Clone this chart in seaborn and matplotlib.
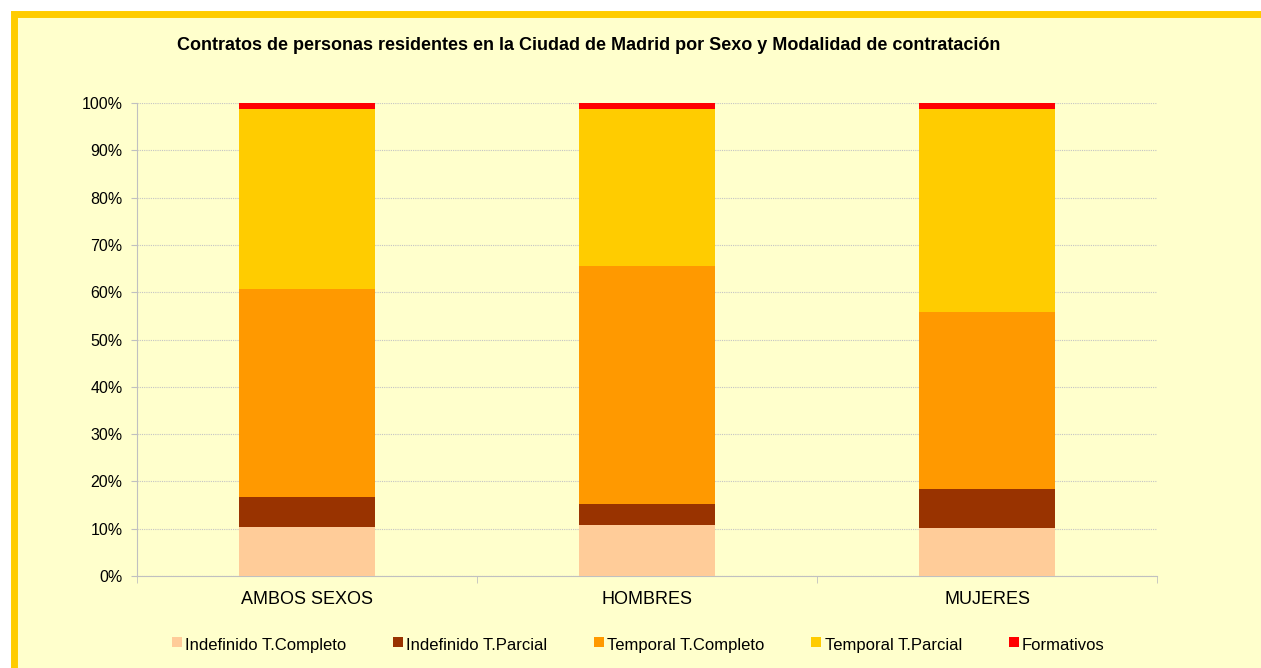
import pandas as pd
import seaborn as sns
import matplotlib.pyplot as plt
from matplotlib.lines import Line2D
from matplotlib.patches import Rectangle
from matplotlib.ticker import PercentFormatter, FixedLocator

# Data (percent of contracts per group)
categories = ['AMBOS SEXOS', 'HOMBRES', 'MUJERES']
series = ['Indefinido T.Completo', 'Indefinido T.Parcial', 'Temporal T.Completo',
          'Temporal T.Parcial', 'Formativos']
indef_completo = [10.4, 10.7, 10.1]
indef_parcial = [6.3, 4.5, 8.3]
temp_completo = [44.0, 50.3, 37.4]
temp_parcial = [38.0, 33.2, 43.0]
formativos = [1.3, 1.3, 1.2]
colors = ['#FFCC99', '#993300', '#FF9900', '#FFCC00', '#FF0000']

df = pd.DataFrame({'Grupo': categories,
                   series[0]: indef_completo,
                   series[1]: indef_parcial,
                   series[2]: temp_completo,
                   series[3]: temp_parcial,
                   series[4]: formativos}).set_index('Grupo')
share = df.div(df.sum(axis=1), axis=0) * 100
cum = share.cumsum(axis=1)

plt.rcParams['font.family'] = ['Liberation Sans', 'DejaVu Sans']
bg = '#FFFFCC'

fig = plt.figure(figsize=(12.61, 6.68), dpi=100, facecolor='white')
# gold frame (only top/left edges visible)
fig.patches.append(Rectangle((13.5 / 1261, -0.2), 1.3, (668 - 13.5) / 668 + 0.2,
                             transform=fig.transFigure, facecolor=bg,
                             edgecolor='#FFCC00', linewidth=5.0, zorder=-10))

ax = fig.add_axes([137 / 1261, 1 - 576 / 668, 1020 / 1261, 473 / 668])
ax.set_facecolor('none')

# stacked bars: draw cumulative totals from the top down
for i in range(len(series) - 1, -1, -1):
    sns.barplot(x=cum.index, y=cum[series[i]], color=colors[i], width=0.4,
                saturation=1, ax=ax, zorder=3, linewidth=0)

ax.set_ylim(0, 100)
ax.set_xlim(-0.5, 2.5)
ax.set_yticks(range(0, 101, 10))
ax.yaxis.set_major_formatter(PercentFormatter(decimals=0))
ax.grid(axis='y', color='#c4c4c4', linestyle=(0, (1, 1)), linewidth=0.8, zorder=0)
ax.set_axisbelow(True)
ax.set_xlabel('')
ax.set_ylabel('')
for s in ['top', 'right']:
    ax.spines[s].set_visible(False)
for s in ['left', 'bottom']:
    ax.spines[s].set_color('#c0c0c0')
ax.tick_params(axis='y', length=4, color='#c0c0c0', labelsize=11.5, pad=6.5)
ax.tick_params(axis='x', which='major', length=0, labelsize=13, pad=11)
ax.xaxis.set_minor_locator(FixedLocator([-0.5, 0.5, 1.5, 2.5]))
ax.tick_params(axis='x', which='minor', length=5, color='#c0c0c0')

fig.text(589 / 1261, 1 - 46 / 668, 'Contratos de personas residentes en la Ciudad de Madrid '
         'por Sexo y Modalidad de contratación', ha='center', va='center',
         fontsize=13, fontweight='bold')

handles = [Line2D([], [], linestyle='none', marker='s', markersize=7,
                  markerfacecolor=c, markeredgewidth=0) for c in colors]
fig.legend(handles, series, loc='center', bbox_to_anchor=(0.506, 1 - 645 / 668), ncol=5,
           frameon=False, fontsize=12, handlelength=0.6, handleheight=1.6,
           handletextpad=0.2, columnspacing=2.8)

plt.savefig('out.png', dpi=100, facecolor='white')
